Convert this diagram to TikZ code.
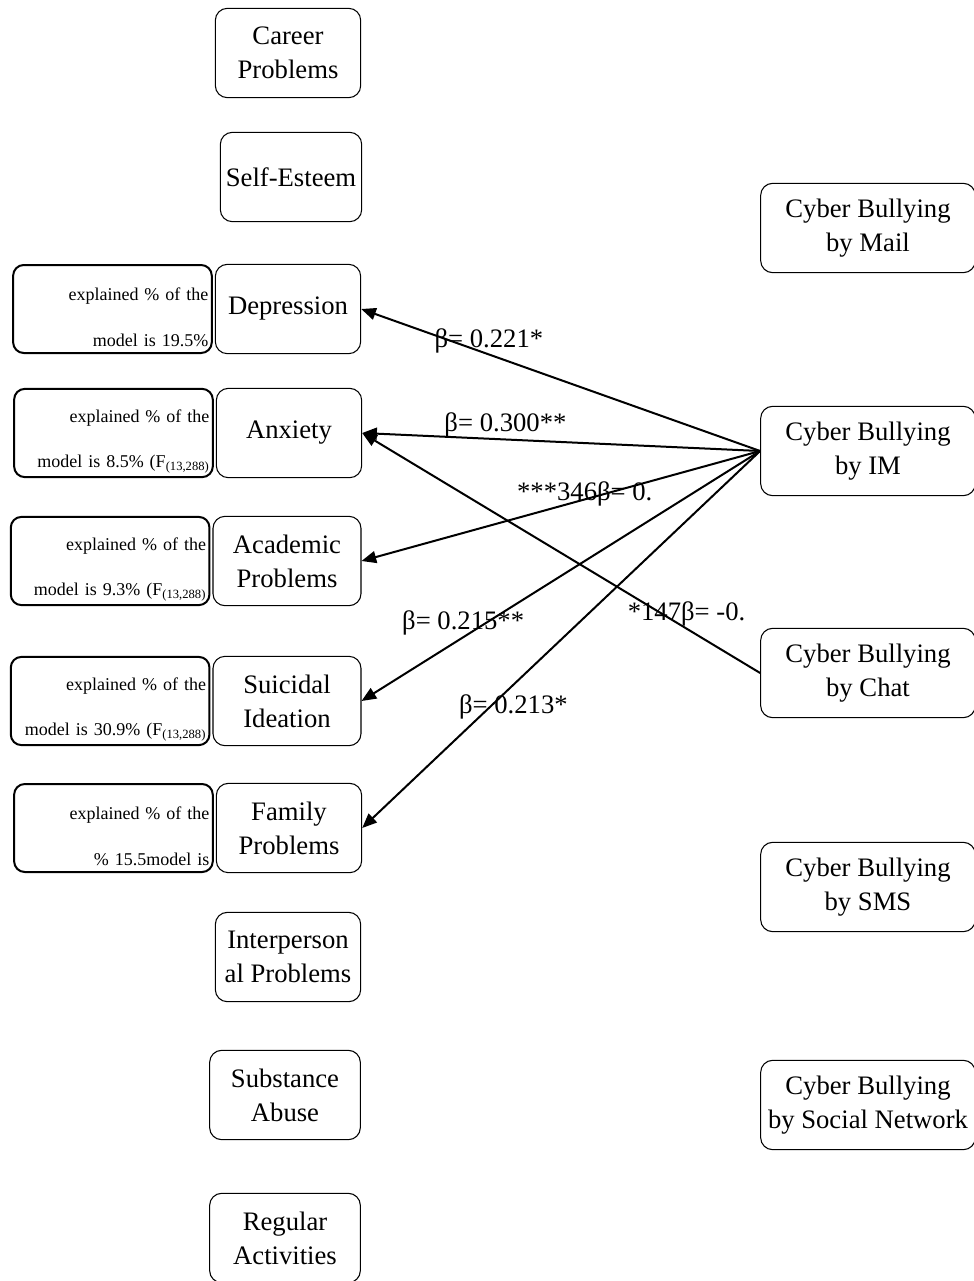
\documentclass[tikz,border=0pt]{standalone}
\usepackage{fontspec}
\setmainfont{Liberation Serif}
\usetikzlibrary{arrows.meta,positioning}

\tikzset{
  factor/.style={draw, rounded corners=9pt, line width=0.8pt, align=center,
    minimum width=109pt, minimum height=67pt, inner sep=2pt,
    font=\fontsize{20}{25.5}\selectfont},
  bully/.style={factor, minimum width=161pt},
  expl/.style={draw, rounded corners=8pt, line width=1.5pt, align=right,
    text width=144pt, minimum height=66pt, inner xsep=2.5pt, inner ysep=3pt,
    font=\fontsize{13.5}{34}\selectfont,
    execute at begin node={\rule{0pt}{22pt}}},
  effect/.style={-{Triangle[length=11pt,width=9pt]}, line width=1.5pt},
  beta/.style={font=\fontsize{20}{24}\selectfont, inner sep=1pt}
}

\begin{document}
\begin{tikzpicture}[x=0.75pt, y=-0.75pt]
 \useasboundingbox (0,0) rectangle (974,1281);

 % outcomes
 \node[factor] (career) at (288,53) {Career\\Problems};
 \node[factor, minimum width=106pt] (esteem) at (291,177) {Self-Esteem};
 \node[factor] (dep) at (288,309) {Depression};
 \node[factor] (anx) at (289,433) {Anxiety};
 \node[factor, minimum width=111pt] (acad) at (287,561) {Academic\\Problems};
 \node[factor, minimum width=111pt] (suic) at (287,701) {Suicidal\\Ideation};
 \node[factor] (fam) at (289,828) {Family\\Problems};
 \node[factor] (inter) at (288,957) {Interperson\\al Problems};
 \node[factor, minimum width=113pt] (subst) at (285,1095) {Substance\\Abuse};
 \node[factor, minimum width=113pt] (regular) at (285,1238) {Regular\\Activities};

 % explained variance
 \node[expl, left = 1.5pt of dep] (depx) {explained \% of the\\model is 19.5\%};
 \node[expl, left = 1.5pt of anx] (anxx) {explained \% of the\\model is 8.5\% (F\textsubscript{(13,288)}};
 \node[expl, left = 1.5pt of acad] (acadx) {explained \% of the\\model is 9.3\% (F\textsubscript{(13,288)}};
 \node[expl, left = 1.5pt of suic] (suicx) {explained \% of the\\model is 30.9\% (F\textsubscript{(13,288)}};
 \node[expl, left = 1.5pt of fam] (famx) {explained \% of the\\\% 15.5model is};

 % predictors
 \node[bully] (mail) at (868,228) {Cyber Bullying\\by Mail};
 \node[bully] (im) at (868,451) {Cyber Bullying\\by IM};
 \node[bully] (chat) at (868,673) {Cyber Bullying\\by Chat};
 \node[bully] (sms) at (868,887) {Cyber Bullying\\by SMS};
 \node[bully] (social) at (868,1105) {Cyber Bullying\\by Social Network};

 \draw[effect] (im.west) -- node[beta, pos=.68, yshift=10pt] {β= 0.221*} (dep.east);
 \draw[effect] (im.west) -- node[beta, pos=.64, above] {β= 0.300**} (anx.east);
 \draw[effect] (im.west) -- node[beta, pos=.44, yshift=4pt] {***346β= 0.} (acad.east);
 \draw[effect] (im.west) -- node[beta, pos=.745, above] {β= 0.215**} (suic.east);
 \draw[effect] (im.west) -- node[beta, pos=.62, below=6pt] {β= 0.213*} (fam.east);
 \draw[effect] (chat.west) -- node[beta, pos=.185, above] {*147β= -0.} (anx.east);

\end{tikzpicture}
\end{document}
